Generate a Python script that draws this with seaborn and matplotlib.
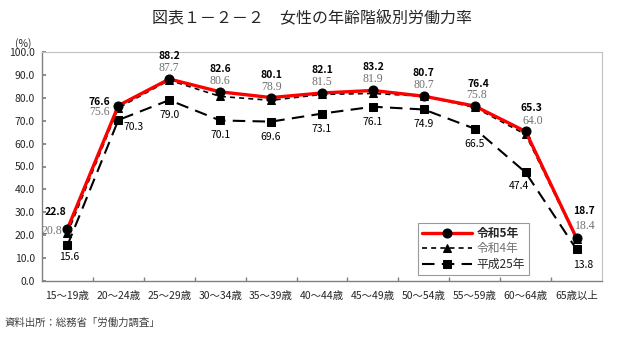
import matplotlib
matplotlib.use("Agg")
import matplotlib.pyplot as plt
import seaborn as sns
import pandas as pd

categories = ["15～19歳", "20～24歳", "25～29歳", "30～34歳", "35～39歳", "40～44歳",
              "45～49歳", "50～54歳", "55～59歳", "60～64歳", "65歳以上"]
r5 = [22.8, 76.6, 88.2, 82.6, 80.1, 82.1, 83.2, 80.7, 76.4, 65.3, 18.7]
r4 = [20.8, 75.6, 87.7, 80.6, 78.9, 81.5, 81.9, 80.7, 75.8, 64.0, 18.4]
h25 = [15.6, 70.3, 79.0, 70.1, 69.6, 73.1, 76.1, 74.9, 66.5, 47.4, 13.8]
series_names = ["令和5年", "令和4年", "平成25年"]
yticks = [0, 10, 20, 30, 40, 50, 60, 70, 80, 90, 100]
title = "図表１－２－２　女性の年齢階級別労働力率"
source = "資料出所：総務省「労働力調査」"

sns.set_theme(style="white")
plt.rcParams["font.family"] = ["Noto Sans CJK JP", "DejaVu Sans"]

fig = plt.figure(figsize=(6.4, 3.39), dpi=100)
ax = fig.add_axes([42 / 640, 1 - 281 / 339, 560 / 640, 229 / 339])

df = pd.DataFrame({"age": categories, "r5": r5, "r4": r4, "h25": h25})

sns.lineplot(data=df, x="age", y="h25", ax=ax, color="black", lw=1.5,
             linestyle=(0, (6, 3.5)), marker="s", markersize=6,
             markeredgecolor="black", label=series_names[2], sort=False, zorder=2)
sns.lineplot(data=df, x="age", y="r4", ax=ax, color="black", lw=1.2,
             linestyle=(0, (3, 2.5)), marker="^", markersize=6,
             markeredgecolor="black", label=series_names[1], sort=False, zorder=3)
sns.lineplot(data=df, x="age", y="r5", ax=ax, color="#ff0000", lw=2.4,
             marker="o", markersize=6.5, markerfacecolor="black",
             markeredgecolor="black", label=series_names[0], sort=False, zorder=4)

ax.set_xlim(-0.5, len(categories) - 0.5)
ax.set_ylim(0, 100)
ax.set_yticks(yticks)
ax.set_yticklabels([f"{v:.1f}" for v in yticks], fontsize=7.5)
ax.set_xticks(range(len(categories)))
ax.set_xticklabels(categories, fontsize=7.5)
ax.set_xticks([i + 0.5 for i in range(len(categories) - 1)], minor=True)
ax.tick_params(axis="x", which="major", length=0, pad=7)
ax.tick_params(axis="x", which="minor", direction="in", length=3, color="#808080", bottom=True)
ax.tick_params(axis="y", which="major", direction="in", length=3, color="#808080", left=True, pad=5)
ax.set_xlabel("")
ax.set_ylabel("")
for s in ["top", "right"]:
    ax.spines[s].set_color("#c0c0c0")
    ax.spines[s].set_linewidth(0.8)
for s in ["left", "bottom"]:
    ax.spines[s].set_color("#808080")
    ax.spines[s].set_linewidth(1.0)

# label offsets (pixels)
bold_off = [(-12, 17), (-19, 4)] + [(0, 23)] * 6 + [(4, 22), (6, 23), (7, 27)]
gray_off = [(-16, -2), (-19, -6)] + [(0, 11)] * 6 + [(2, 11), (7, 10), (9, 12)]
h_off = [(2, -12), (15, -7)] + [(0, -15)] * 7 + [(-7, -14), (7, -16)]

for i in range(len(categories)):
    ax.annotate(f"{r5[i]:.1f}", (i, r5[i]), textcoords="offset pixels",
                xytext=bold_off[i], ha="center", va="center", fontsize=7.5,
                fontweight="bold", color="black")
    ax.annotate(f"{r4[i]:.1f}", (i, r5[i]), textcoords="offset pixels",
                xytext=gray_off[i], ha="center", va="center", fontsize=8.5,
                family=["Liberation Serif", "DejaVu Serif"], color="#707070")
    ax.annotate(f"{h25[i]:.1f}", (i, h25[i]), textcoords="offset pixels",
                xytext=h_off[i], ha="center", va="center", fontsize=7.5,
                color="black")

handles, labels = ax.get_legend_handles_labels()
order = [labels.index(n) for n in series_names]
leg = ax.legend([handles[k] for k in order], [labels[k] for k in order],
                loc="upper left", bbox_to_anchor=((418 - 42) / 560, (281 - 223) / 229),
                fontsize=8.5, frameon=True, fancybox=False, edgecolor="#808080",
                handlelength=4.2, borderpad=0.35, labelspacing=0.2, handletextpad=0.4,
                borderaxespad=0)
leg.get_frame().set_linewidth(0.8)
txts = leg.get_texts()
txts[0].set_fontweight("bold")
txts[1].set_color("#707070")

fig.text(15 / 640, 1 - 44 / 339, "(%)", fontsize=7.5, ha="left", va="center")
fig.text(312 / 640, 1 - 18 / 339, title, fontsize=11.5, ha="center", va="center")
fig.text(5 / 640, 1 - 323 / 339, source, fontsize=7.5, ha="left", va="center", color="#404040")

fig.savefig("out.png", dpi=100)
